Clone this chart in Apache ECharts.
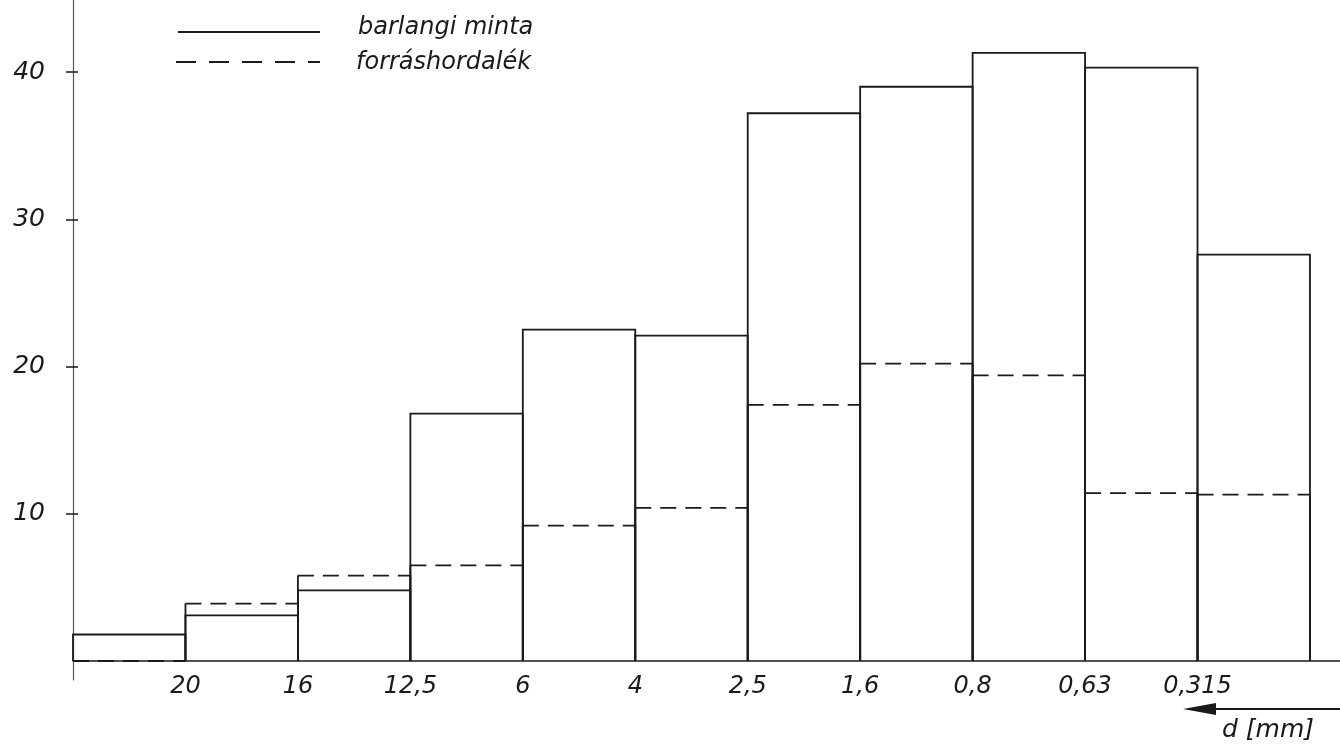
<!DOCTYPE html>
<html>
<head>
<meta charset="utf-8">
<script src="https://cdn.jsdelivr.net/npm/echarts@6/dist/echarts.min.js"></script>
<style>
html,body{margin:0;padding:0;background:#fff;}
#chart{width:1340px;height:752px;}
</style>
</head>
<body>
<div id="chart"></div>
<script>
// Grain-size boundaries d [mm] (labels at bin edges 1..10)
const edgeLabels = ['20', '16', '12,5', '6', '4', '2,5', '1,6', '0,8', '0,63', '0,315'];
// barlangi minta (solid)
const barlangiMinta = [1.8, 3.1, 4.8, 16.8, 22.5, 22.1, 37.2, 39.0, 41.3, 40.3, 27.6];
// forráshordalék (dashed)
const forrashordalek = [0, 3.9, 5.8, 6.5, 9.2, 10.4, 17.4, 20.2, 19.4, 11.4, 11.3];
const yTickValues = [10, 20, 30, 40];
const seriesNames = ['barlangi minta', 'forráshordalék'];

const ink = '#1a1a1a';
const font = 'DejaVu Sans';

const solidData = barlangiMinta.map((v, i) => [i, v]);
const dashedData = forrashordalek.map((v, i) => [i, v]);
const edgeValues = edgeLabels.map((_, i) => i + 1);

const chart = echarts.init(document.getElementById('chart'), null, {renderer: 'canvas'});

function solidRender(params, api) {
  const i = api.value(0), v = api.value(1);
  const b = api.coord([i, 0]);
  const t = api.coord([i + 1, v]);
  return {
    type: 'polyline',
    shape: {points: [[b[0], b[1]], [b[0], t[1]], [t[0], t[1]], [t[0], b[1]]]},
    style: {stroke: ink, lineWidth: 1.8, fill: null}
  };
}
function dashedRender(params, api) {
  const i = api.value(0), v = api.value(1);
  const b = api.coord([i, 0]);
  const t = api.coord([i + 1, v]);
  return {
    type: 'group',
    children: [
      {type: 'line', shape: {x1: b[0], y1: t[1], x2: t[0], y2: t[1]},
       style: {stroke: ink, lineWidth: 1.8, lineDash: [16, 9]}},
      {type: 'line', shape: {x1: b[0], y1: b[1], x2: b[0], y2: t[1]},
       style: {stroke: ink, lineWidth: 1.8}},
      {type: 'line', shape: {x1: t[0], y1: b[1], x2: t[0], y2: t[1]},
       style: {stroke: ink, lineWidth: 1.8}}
    ]
  };
}

const yMin = -1.29, yMax = 44.89;

chart.setOption({
  backgroundColor: '#ffffff',
  animation: false,
  grid: {left: 73, right: 0, top: 0, bottom: 72, containLabel: false},
  xAxis: {
    type: 'value', min: 0, max: 11.267,
    axisLine: {onZero: true, lineStyle: {color: ink, width: 1.5}},
    axisTick: {show: false},
    splitLine: {show: false},
    axisLabel: {
      customValues: edgeValues,
      formatter: (val) => edgeLabels[Math.round(val) - 1] || '',
      margin: -5, fontSize: 24, fontStyle: 'italic', fontFamily: font, color: ink
    }
  },
  yAxis: [{
    type: 'value', min: yMin, max: yMax,
    axisLine: {show: true, lineStyle: {color: '#555', width: 1.2}},
    axisTick: {show: true, customValues: yTickValues, length: 7, inside: false,
               lineStyle: {color: ink, width: 1.5}},
    splitLine: {show: false},
    axisLabel: {customValues: yTickValues, margin: 28, fontSize: 25,
                fontStyle: 'italic', fontFamily: font, color: ink}
  }, {
    type: 'value', min: yMin, max: yMax, position: 'left', offset: 0,
    axisLine: {show: false},
    axisTick: {show: true, customValues: yTickValues, length: 5, inside: true,
               lineStyle: {color: ink, width: 1.5}},
    splitLine: {show: false},
    axisLabel: {show: true, customValues: yTickValues, formatter: () => ''}
  }],
  series: [
    {name: seriesNames[0], type: 'custom', renderItem: solidRender, data: solidData,
     encode: {x: 0, y: 1}, clip: false, z: 3},
    {name: seriesNames[1], type: 'custom', renderItem: dashedRender, data: dashedData,
     encode: {x: 0, y: 1}, clip: false, z: 2}
  ],
  graphic: [
    {type: 'line', shape: {x1: 178, y1: 32, x2: 320, y2: 32},
     style: {stroke: ink, lineWidth: 1.8}},
    {type: 'line', shape: {x1: 176, y1: 62, x2: 320, y2: 62},
     style: {stroke: ink, lineWidth: 1.8, lineDash: [20, 13]}},
    {type: 'text', left: 358, top: 16,
     style: {text: seriesNames[0], font: 'italic 24px "DejaVu Sans"', fill: ink}},
    {type: 'text', left: 356, top: 51,
     style: {text: seriesNames[1], font: 'italic 24px "DejaVu Sans"', fill: ink}},
    {type: 'line', shape: {x1: 1210, y1: 709, x2: 1340, y2: 709},
     style: {stroke: ink, lineWidth: 2}},
    {type: 'polygon', shape: {points: [[1183, 709], [1216, 703], [1216, 715]]},
     style: {fill: ink}},
    {type: 'text', left: 1222, top: 718,
     style: {text: 'd [mm]', font: 'italic 25px "DejaVu Sans"', fill: ink}}
  ]
});
</script>
</body>
</html>
